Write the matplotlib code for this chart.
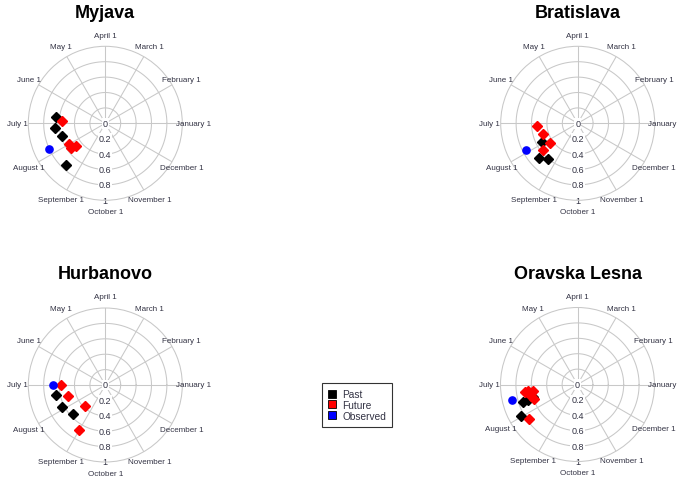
import numpy as np
import matplotlib.pyplot as plt

plt.rcParams['font.family'] = ['Liberation Sans', 'DejaVu Sans']

months = ['January 1', 'February 1', 'March 1', 'April 1', 'May 1', 'June 1',
          'July 1', 'August 1', 'September 1', 'October 1', 'November 1', 'December 1']
rings = [0.2, 0.4, 0.6, 0.8, 1.0]
ring_labels = ['0', '0.2', '0.4', '0.6', '0.8', '1']

# timing as day of year (0 = January 1), strength 0..1
myjava_past_day = [175, 188, 199, 230]
myjava_past_r = [0.65, 0.65, 0.59, 0.75]
myjava_future_day = [180, 212, 219, 220]
myjava_future_r = [0.56, 0.54, 0.55, 0.48]
myjava_obs_day = [207]
myjava_obs_r = [0.80]

bratislava_past_day = [210, 225, 233]
bratislava_past_r = [0.52, 0.68, 0.60]
bratislava_future_day = [186, 200, 218, 220]
bratislava_future_r = [0.53, 0.47, 0.44, 0.57]
bratislava_obs_day = [210]
bratislava_obs_r = [0.76]

hurbanovo_past_day = [194, 210, 225]
hurbanovo_past_r = [0.65, 0.63, 0.56]
hurbanovo_future_day = [183, 199, 229, 243]
hurbanovo_future_r = [0.58, 0.50, 0.38, 0.68]
hurbanovo_obs_day = [183]
hurbanovo_obs_r = [0.68]

oravska_past_day = [199, 200, 201, 212]
oravska_past_r = [0.60, 0.67, 0.74, 0.84]
oravska_future_day = [191, 190, 191, 197, 201, 218]
oravska_future_r = [0.69, 0.65, 0.58, 0.62, 0.59, 0.77]
oravska_obs_day = [196]
oravska_obs_r = [0.87]

W, H = 678, 481
fig = plt.figure(figsize=(W / 100, H / 100), dpi=100)
R = 77
txt_col = '#333344'
grid_col = '#c8c8c8'


def panel(cx, cy, title, past, future, obs):
    ax = fig.add_axes([(cx - R) / W, (H - cy - R) / H, 2 * R / W, 2 * R / H],
                      projection='polar')
    ax.set_ylim(0, 1)
    ax.grid(False)
    ax.set_xticks([])
    ax.set_yticks([])
    ax.spines['polar'].set_color(grid_col)
    ax.spines['polar'].set_linewidth(0.75)
    ax.set_facecolor('none')
    th = np.linspace(0, 2 * np.pi, 361)
    for r in rings[:-1]:
        ax.plot(th, np.full_like(th, r), color=grid_col, lw=0.75, zorder=1)
    for i, m in enumerate(months):
        a = np.deg2rad(30 * i)
        if i != 9:
            ax.plot([a, a], [0, 1], color=grid_col, lw=0.75, zorder=1)
        ax.text(a, 1.145, m, ha='center', va='center', fontsize=5.8,
                color=txt_col)
    for r, lab in zip([0] + rings, ring_labels):
        ax.text(1.5 * np.pi, r, lab, ha='center', va='center', fontsize=6.5,
                color=txt_col, zorder=2,
                bbox=dict(facecolor='white', edgecolor='none', pad=0.6))
    for (d, r), col, mk, ms in [(past, 'black', 'D', 4.6), (future, 'red', 'D', 4.6),
                                (obs, 'blue', 'o', 5.2)]:
        ax.plot(np.deg2rad(np.array(d) * 360 / 365), r, mk, color=col, ms=ms,
                mec=col, zorder=3, clip_on=False)
    fig.text(cx / W, 1 - (cy - 111) / H, title, ha='center', va='center',
             fontsize=13, fontweight='bold')


panel(105.3, 124.3, 'Myjava', (myjava_past_day, myjava_past_r),
      (myjava_future_day, myjava_future_r), (myjava_obs_day, myjava_obs_r))
panel(577.7, 124.3, 'Bratislava', (bratislava_past_day, bratislava_past_r),
      (bratislava_future_day, bratislava_future_r),
      (bratislava_obs_day, bratislava_obs_r))
panel(105.3, 386, 'Hurbanovo', (hurbanovo_past_day, hurbanovo_past_r),
      (hurbanovo_future_day, hurbanovo_future_r),
      (hurbanovo_obs_day, hurbanovo_obs_r))
panel(577.5, 385.5, 'Oravska Lesna', (oravska_past_day, oravska_past_r),
      (oravska_future_day, oravska_future_r), (oravska_obs_day, oravska_obs_r))

handles = [plt.Line2D([], [], ls='none', marker='s', ms=5.5, mfc=c, mec='black',
                      mew=0.6) for c in ['black', 'red', 'blue']]
leg = fig.legend(handles, ['Past', 'Future', 'Observed'], loc='center',
                 bbox_to_anchor=(357.2 / W, 1 - 405.9 / H), fontsize=7.3,
                 frameon=True, fancybox=False, edgecolor='black',
                 handlelength=0.8, handletextpad=0.6, labelspacing=0.08,
                 borderpad=0.6)
leg.get_frame().set_linewidth(0.8)
for t in leg.get_texts():
    t.set_color(txt_col)

fig.savefig('out.png', dpi=100)
